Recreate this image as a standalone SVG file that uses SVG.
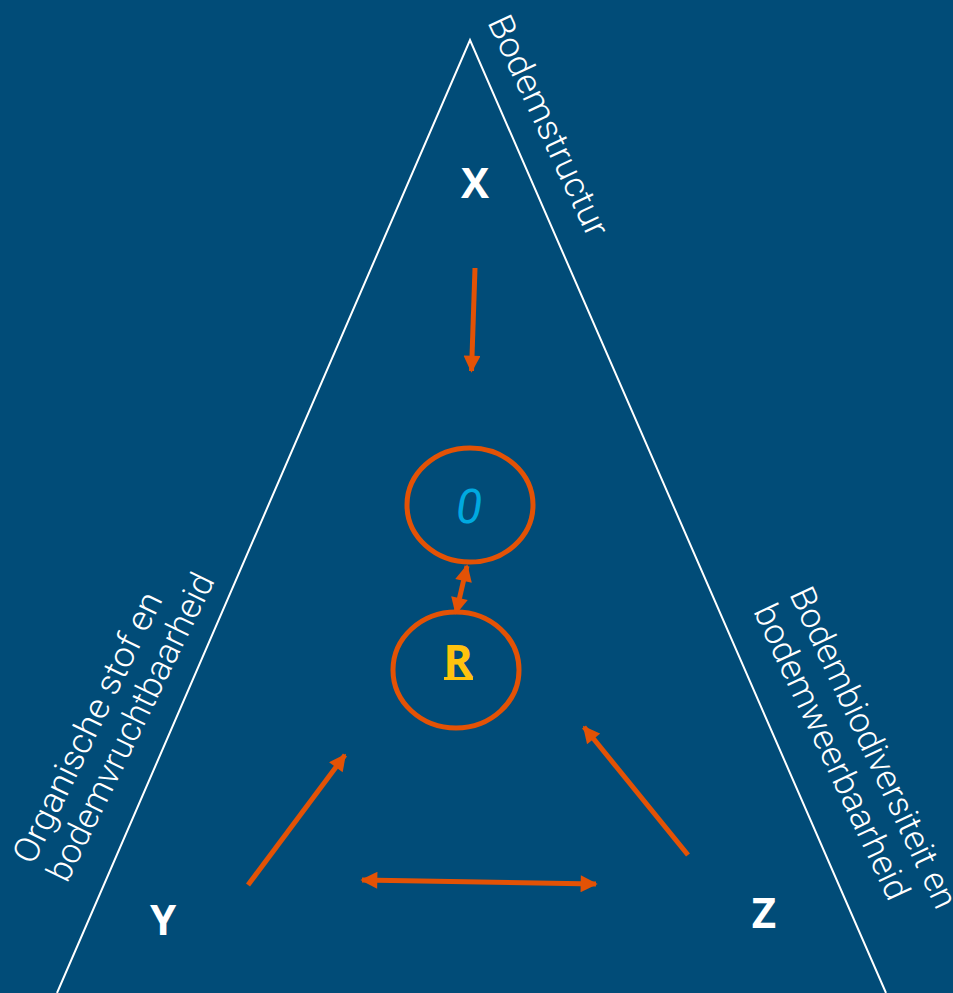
<svg xmlns="http://www.w3.org/2000/svg" width="953" height="993" viewBox="0 0 953 993">
<style>
.lbl{font-family:Roboto,"Liberation Sans",sans-serif;font-weight:300;font-size:35px;fill:#fff}
.big{font-family:"Open Sans","Liberation Sans",sans-serif;font-weight:700;font-size:42px;fill:#fff;text-anchor:middle}
.ar{stroke:#E35205;stroke-width:5;fill:none}
.ring{stroke:#E35205;stroke-width:5;fill:none}
</style>
<defs>
<marker id="ah" viewBox="0 0 10 10" refX="9" refY="5" markerWidth="3.6" markerHeight="3.4" orient="auto-start-reverse" markerUnits="strokeWidth">
<path d="M0,0 L10,5 L0,10 z" fill="#E35205"/>
</marker>
</defs>
<rect width="953" height="993" fill="#014C78"/>
<g id="triangle">
<polyline points="57,993 470,40 886,993" fill="none" stroke="#fff" stroke-width="2"/>
</g>
<g id="side-labels">
<text class="lbl" transform="translate(487,22) rotate(65)" textLength="240" lengthAdjust="spacingAndGlyphs">Bodemstructur</text>
<text class="lbl" transform="translate(33,866) rotate(-64)" textLength="297" lengthAdjust="spacingAndGlyphs">Organische stof en</text>
<text class="lbl" transform="translate(67,884) rotate(-64)" textLength="338" lengthAdjust="spacingAndGlyphs">bodemvruchtbaarheid</text>
<text class="lbl" transform="translate(789,594) rotate(65)" textLength="350" lengthAdjust="spacingAndGlyphs">Bodembiodiversiteit en</text>
<text class="lbl" transform="translate(753,611) rotate(65)" textLength="322" lengthAdjust="spacingAndGlyphs">bodemweerbaarheid</text>
</g>
<g id="node-X"><text class="big" x="475" y="198">X</text></g>
<g id="node-Y"><text class="big" x="163" y="935">Y</text></g>
<g id="node-Z"><text class="big" x="764" y="928">Z</text></g>
<g id="node-O">
<ellipse class="ring" cx="470" cy="505" rx="63" ry="57"/>
<text x="469" y="523" font-family="Roboto,'Liberation Sans',sans-serif" font-style="italic" font-size="48" fill="#00A9E0" text-anchor="middle">0</text>
</g>
<g id="node-R">
<ellipse class="ring" cx="456" cy="670" rx="63" ry="58"/>
<text x="458" y="677" font-family="'Open Sans','Liberation Sans',sans-serif" font-weight="700" font-size="45" fill="#FFC20E" text-anchor="middle">R</text>
<rect x="444" y="677" width="29" height="3" fill="#FFC20E"/>
</g>
<g id="connectors">
<line class="ar" x1="475" y1="268" x2="471.5" y2="371" marker-end="url(#ah)"/>
<line class="ar" x1="467" y1="566" x2="456" y2="613" marker-start="url(#ah)" marker-end="url(#ah)"/>
<line class="ar" x1="248" y1="885" x2="345" y2="755" marker-end="url(#ah)"/>
<line class="ar" x1="688" y1="855" x2="584" y2="727" marker-end="url(#ah)"/>
<line class="ar" x1="362" y1="880" x2="596" y2="884" marker-start="url(#ah)" marker-end="url(#ah)"/>
</g>
</svg>
